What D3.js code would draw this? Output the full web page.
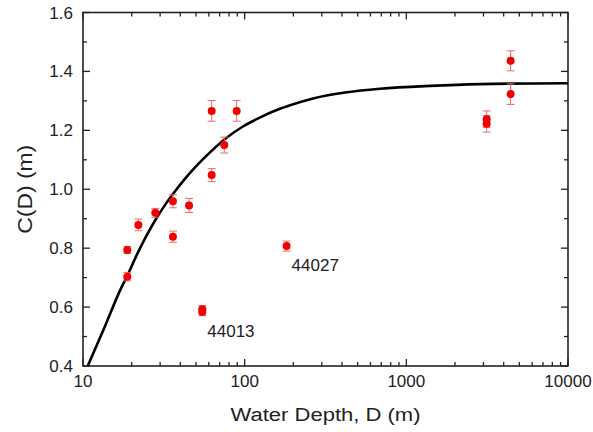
<!DOCTYPE html>
<html>
<head>
<meta charset="utf-8">
<script src="https://cdn.jsdelivr.net/npm/d3@7"></script>
<style>
  body { margin: 0; background: #fff; }
  text { font-family: "Liberation Sans", Arial, sans-serif; fill: #222; }
</style>
</head>
<body>
<div id="chart"></div>
<script>
// measured points
let depth = [18.8, 18.8, 22.0, 28.0, 36.0, 36.0, 45.3, 54.7, 54.7, 62.5, 62.5, 74.8, 89.2, 181.7, 3140, 3140, 4416, 4416];
let cd    = [0.703, 0.794, 0.879, 0.920, 0.959, 0.839, 0.945, 0.593, 0.583, 1.266, 1.048, 1.150, 1.266, 0.807, 1.238, 1.222, 1.436, 1.323];
let cdErr = [0.014, 0.012, 0.020, 0.015, 0.022, 0.019, 0.024, 0.012, 0.012, 0.035, 0.022, 0.027, 0.035, 0.017, 0.028, 0.028, 0.034, 0.035];

// fitted curve
let curveDepth = [10.7, 13.7, 16.9, 19.0, 21.3, 24.2, 27.9, 32.2, 37.1, 42.7, 49.3, 61.0, 76.6, 97.6, 124, 158, 191, 265, 429, 687, 1400, 2850, 10000];
let curveC     = [0.400, 0.536, 0.655, 0.712, 0.772, 0.833, 0.894, 0.947, 0.993, 1.035, 1.074, 1.125, 1.173, 1.213, 1.243, 1.269, 1.285, 1.308, 1.329, 1.341, 1.351, 1.357, 1.360];

// buoy labels
let labelText  = ["44027", "44013"];
let labelDepth = [181.7, 54.7];
let labelC     = [0.807, 0.583];

let xTicks = [10, 100, 1000, 10000];
let yTicks = [0.4, 0.6, 0.8, 1.0, 1.2, 1.4, 1.6];
let yMinor = [0.5, 0.7, 0.9, 1.1, 1.3, 1.5];

let width = 593, height = 432;
let mLeft = 83, mRight = 568, mTop = 12.5, mBottom = 366;

let svg = d3.select("#chart").append("svg")
    .attr("width", width)
    .attr("height", height);

let x = d3.scaleLog().domain([10, 10000]).range([mLeft, mRight]);
let y = d3.scaleLinear().domain([0.4, 1.6]).range([mBottom, mTop]);

let xMinor = [];
for (let dec = 10; dec < 10000; dec *= 10) {
    for (let k = 2; k <= 9; k++) xMinor.push(dec * k);
}

// ticks (inward on all four sides)
let tk = svg.append("g").attr("stroke", "#222").attr("stroke-width", 1.3);
function xt(vals, len) {
    tk.selectAll(null).data(vals).join("line")
        .attr("x1", d => x(d)).attr("x2", d => x(d))
        .attr("y1", mBottom).attr("y2", mBottom - len);
    tk.selectAll(null).data(vals).join("line")
        .attr("x1", d => x(d)).attr("x2", d => x(d))
        .attr("y1", mTop).attr("y2", mTop + len);
}
function yt(vals, len) {
    tk.selectAll(null).data(vals).join("line")
        .attr("y1", d => y(d)).attr("y2", d => y(d))
        .attr("x1", mLeft).attr("x2", mLeft + len);
    tk.selectAll(null).data(vals).join("line")
        .attr("y1", d => y(d)).attr("y2", d => y(d))
        .attr("x1", mRight).attr("x2", mRight - len);
}
xt(xTicks, 7); xt(xMinor, 4);
yt(yTicks, 7); yt(yMinor, 4);

svg.append("rect")
    .attr("x", mLeft).attr("y", mTop)
    .attr("width", mRight - mLeft).attr("height", mBottom - mTop)
    .attr("fill", "none").attr("stroke", "#222").attr("stroke-width", 1.6);

// tick labels
svg.selectAll(".xl").data(xTicks).join("text")
    .attr("x", d => x(d)).attr("y", mBottom + 21)
    .attr("text-anchor", "middle")
    .style("font-size", "17px")
    .text(d => d);
svg.selectAll(".yl").data(yTicks).join("text")
    .attr("x", mLeft - 10).attr("y", d => y(d) + 6)
    .attr("text-anchor", "end")
    .style("font-size", "17px")
    .text(d => d.toFixed(1));

// axis titles
svg.append("text")
    .attr("x", (mLeft + mRight) / 2).attr("y", 421)
    .attr("text-anchor", "middle")
    .attr("textLength", 190).attr("lengthAdjust", "spacingAndGlyphs")
    .style("font-size", "18px")
    .text("Water Depth, D (m)");
svg.append("text")
    .attr("transform", `translate(32,${(mTop + mBottom) / 2}) rotate(-90)`)
    .attr("text-anchor", "middle")
    .attr("textLength", 89).attr("lengthAdjust", "spacingAndGlyphs")
    .style("font-size", "20px")
    .text("C(D) (m)");

// curve
let line = d3.line()
    .x(d => x(d[0]))
    .y(d => y(d[1]))
    .curve(d3.curveMonotoneX);
svg.append("path")
    .datum(curveDepth.map((d, i) => [d, curveC[i]]))
    .attr("d", line)
    .attr("fill", "none")
    .attr("stroke", "#000")
    .attr("stroke-width", 2.6);

// error bars
let pts = depth.map((d, i) => ({d: d, c: cd[i], e: cdErr[i]}));
let eb = svg.append("g").attr("stroke", "#f06a6a").attr("stroke-width", 1);
eb.selectAll(".v").data(pts).join("line")
    .attr("x1", p => x(p.d)).attr("x2", p => x(p.d))
    .attr("y1", p => y(p.c - p.e)).attr("y2", p => y(p.c + p.e));
eb.selectAll(".t").data(pts).join("line")
    .attr("x1", p => x(p.d) - 4).attr("x2", p => x(p.d) + 4)
    .attr("y1", p => y(p.c + p.e)).attr("y2", p => y(p.c + p.e));
eb.selectAll(".b").data(pts).join("line")
    .attr("x1", p => x(p.d) - 4).attr("x2", p => x(p.d) + 4)
    .attr("y1", p => y(p.c - p.e)).attr("y2", p => y(p.c - p.e));

// markers
svg.selectAll(".pt").data(pts).join("circle")
    .attr("cx", p => x(p.d)).attr("cy", p => y(p.c))
    .attr("r", 4)
    .attr("fill", "#f00000");

// labels
svg.selectAll(".lab").data(labelText).join("text")
    .attr("x", (t, i) => x(labelDepth[i]) + 5)
    .attr("y", (t, i) => y(labelC[i]) + 25)
    .style("font-size", "17px")
    .text(t => t);
</script>
</body>
</html>
